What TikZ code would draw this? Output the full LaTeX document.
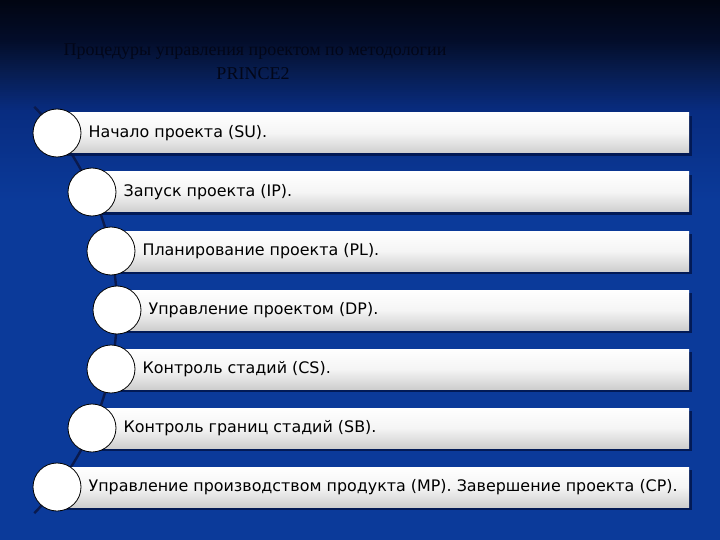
\documentclass[tikz,border=0pt]{standalone}
\usepackage{fontspec}
\setmainfont{DejaVu Sans}
\newfontfamily\titlefont{Liberation Serif}
\usetikzlibrary{shadows}
\definecolor{bgA}{HTML}{010512}
\definecolor{bgB}{HTML}{030D2A}
\definecolor{bgC}{HTML}{071C4E}
\definecolor{bgD}{HTML}{082C80}
\definecolor{bgE}{HTML}{0B3A9A}
\definecolor{arcline}{HTML}{0A1A4E}
\definecolor{titlecol}{HTML}{020618}
\definecolor{barshadow}{HTML}{02174F}
\tikzset{
  barbox/.style={minimum height=40pt, inner sep=0pt, anchor=west, top color=white, bottom color=black!19, middle color=white!96!black, shading angle=0,
    drop shadow={shadow xshift=3pt, shadow yshift=-3pt, fill=barshadow, opacity=0.9}},
  dot/.style={circle, minimum size=48pt, inner sep=0pt, fill=white, draw=black, line width=0.8pt},
  label/.style={anchor=west, inner sep=0pt, font=\fontsize{15.9}{18}\selectfont, text=black},
  titletext/.style={font=\titlefont\fontsize{18}{21}\selectfont, text=titlecol, inner sep=0pt}
}
\begin{document}
\begin{tikzpicture}[x=1pt,y=-1pt]
\useasboundingbox (0,0) rectangle (720,540);
% background, drawn as thin strips
\fill[bgE] (0,198) rectangle (720,540);
\foreach \y in {0,2,...,38}{
  \pgfmathtruncatemacro{\p}{100*\y/40}
  \fill[bgB!\p!bgA] (0,\y) rectangle (720,\y+2.5);
}
\foreach \y in {40,42,...,68}{
  \pgfmathtruncatemacro{\p}{100*(\y-40)/30}
  \fill[bgC!\p!bgB] (0,\y) rectangle (720,\y+2.5);
}
\foreach \y in {70,72,...,108}{
  \pgfmathtruncatemacro{\p}{100*(\y-70)/40}
  \fill[bgD!\p!bgC] (0,\y) rectangle (720,\y+2.5);
}
\foreach \y in {110,112,...,198}{
  \pgfmathtruncatemacro{\p}{100*(\y-110)/90}
  \fill[bgE!\p!bgD] (0,\y) rectangle (720,\y+2.5);
}
% title
\node[titletext] (title1) at (255,52) {Процедуры управления проектом по методологии};
\node[titletext] (title2) at (253,74) {PRINCE2};
% arc
\draw[arcline, line width=2.4pt] plot[domain=-44.3:44.3, samples=80] ({-174+291*cos(\x)},{310+291*sin(\x)});
% bars
\foreach \i/\cx/\cy in {1/57/133, 2/92/192, 3/111/251, 4/117/310, 5/111/369, 6/92/428, 7/57/487}{
  \pgfmathsetmacro{\w}{689-\cx}
  \node[barbox, minimum width=\w pt] (b\i) at (\cx,\cy) {};
}
% circles and labels
\foreach \i/\cx/\cy/\txt in {
  1/57/133/{Начало проекта (SU).},
  2/92/192/{Запуск проекта (IP).},
  3/111/251/{Планирование проекта (PL).},
  4/117/310/{Управление проектом (DP).},
  5/111/369/{Контроль стадий (CS).},
  6/92/428/{Контроль границ стадий (SB).},
  7/57/487/{Управление производством продукта (MP). Завершение проекта (CP).}}{
  \node[dot] (c\i) at (\cx,\cy) {};
  \node[label] (t\i) at ([xshift=7pt]c\i.east) {\txt};
}
\end{tikzpicture}
\end{document}
